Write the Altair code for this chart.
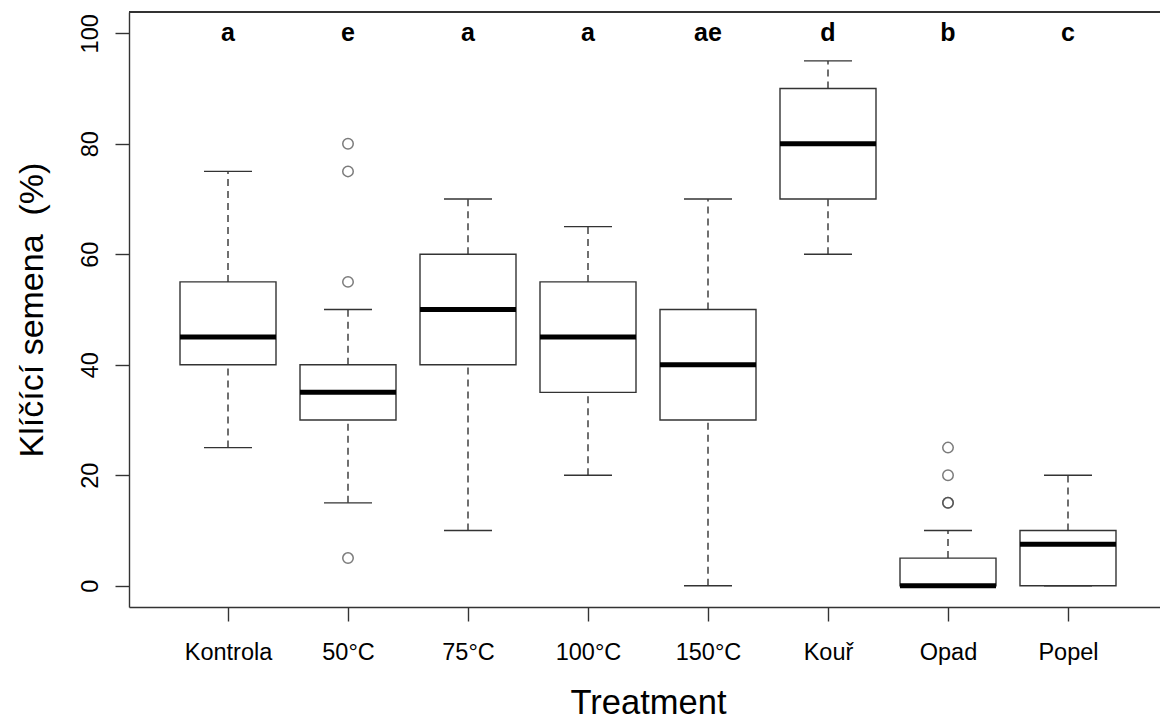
import altair as alt
import pandas as pd

categories = ["Kontrola", "50°C", "75°C", "100°C", "150°C", "Kouř", "Opad", "Popel"]
whisker_low = [25, 15, 10, 20, 0, 60, 0, 0]
q1 = [40, 30, 40, 35, 30, 70, 0, 0]
median = [45, 35, 50, 45, 40, 80, 0, 7.5]
q3 = [55, 40, 60, 55, 50, 90, 5, 10]
whisker_high = [75, 50, 70, 65, 70, 95, 10, 20]
letters = ["a", "e", "a", "a", "ae", "d", "b", "c"]

outlier_group = ["50°C", "50°C", "50°C", "50°C", "Opad", "Opad", "Opad", "Opad"]
outlier_values = [5, 55, 75, 80, 15, 15, 20, 25]

stats = pd.DataFrame({
    "treatment": categories,
    "pos": list(range(1, len(categories) + 1)),
    "wlo": whisker_low,
    "q1": q1,
    "med": median,
    "q3": q3,
    "whi": whisker_high,
    "letter": letters,
})
outl = pd.DataFrame({
    "treatment": outlier_group,
    "pos": [categories.index(g) + 1 for g in outlier_group],
    "value": outlier_values,
})

FONT = "Liberation Sans"
LINE = "#333333"

label_array = "[" + ",".join("'" + c + "'" for c in categories) + "]"

xscale = alt.Scale(domain=[0.175, 8.7667], nice=False, zero=False)
yscale = alt.Scale(domain=[-3.85, 103.85], nice=False, zero=False)

xaxis = alt.Axis(
    values=list(range(1, len(categories) + 1)),
    labelExpr=label_array + "[datum.value - 1]",
    title="Treatment",
    grid=False,
    domain=True, domainColor=LINE, domainWidth=1.4,
    ticks=True, tickSize=14, tickColor=LINE, tickWidth=1.4,
    labelFont=FONT, labelFontSize=23.5, labelColor="black",
    labelBaseline="alphabetic", labelPadding=38, labelOverlap=False,
    labelFlush=False,
    titleFont=FONT, titleFontSize=34.5, titleFontWeight="normal", titleColor="black",
    titleX=519, titleY=106, titleAlign="center", titleBaseline="alphabetic",
)
yaxis = alt.Axis(
    values=[0, 20, 40, 60, 80, 100],
    title="Klíčící semena\u00a0 (%)",
    grid=False,
    domain=True, domainColor=LINE, domainWidth=1.4,
    ticks=True, tickSize=14, tickColor=LINE, tickWidth=1.4,
    labelFont=FONT, labelFontSize=23.5, labelColor="black",
    labelAngle=270, labelAlign="center", labelBaseline="alphabetic",
    labelPadding=18, labelOverlap=False, labelFlush=False,
    titleFont=FONT, titleFontSize=34, titleFontWeight="normal", titleColor="black",
    titleAngle=270, titleAlign="center", titleBaseline="alphabetic",
    titleX=-87, titleY=297.5,
)

base = alt.Chart(stats).transform_calculate(
    lo="datum.pos - 0.4", hi="datum.pos + 0.4",
    clo="datum.pos - 0.2", chi="datum.pos + 0.2",
)

upper_whisker = base.mark_rule(color=LINE, strokeWidth=1.4, strokeDash=[7, 5]).encode(
    x=alt.X("pos:Q", scale=xscale, axis=xaxis),
    y=alt.Y("q3:Q", scale=yscale, axis=yaxis),
    y2="whi:Q",
)
lower_whisker = base.mark_rule(color=LINE, strokeWidth=1.4, strokeDash=[7, 5]).encode(
    x="pos:Q", y="wlo:Q", y2="q1:Q",
)
upper_cap = base.mark_rule(color=LINE, strokeWidth=1.4).encode(
    x="clo:Q", x2="chi:Q", y="whi:Q",
)
lower_cap = base.mark_rule(color=LINE, strokeWidth=1.4).encode(
    x="clo:Q", x2="chi:Q", y="wlo:Q",
)
box = base.mark_rect(fill="white", stroke=LINE, strokeWidth=1.4).encode(
    x="lo:Q", x2="hi:Q", y="q1:Q", y2="q3:Q",
)
med = base.mark_rule(color="black", strokeWidth=5, strokeCap="butt").encode(
    x="lo:Q", x2="hi:Q", y="med:Q",
)
letter_text = base.mark_text(
    font=FONT, fontSize=25, fontWeight="bold", color="black",
    align="center", baseline="alphabetic", dy=8,
).encode(
    x="pos:Q", y=alt.datum(100), text="letter:N",
)
points = alt.Chart(outl).mark_point(
    shape="circle", filled=False, size=110, stroke="#444444", strokeWidth=1.5,
).encode(
    x="pos:Q", y="value:Q",
)
top_border = alt.Chart(stats).mark_rule(color=LINE, strokeWidth=1.4).encode(
    y=alt.value(0),
)

chart = alt.layer(
    upper_whisker, lower_whisker, upper_cap, lower_cap, box, med,
    points, letter_text, top_border,
).properties(
    width=1031, height=595,
    autosize=alt.AutoSizeParams(type="none"),
    padding={"left": 129, "top": 12, "right": 0, "bottom": 113},
    background="white",
).configure_view(stroke=None)

chart.save("out.html", embed_options={"renderer": "svg", "actions": False})
